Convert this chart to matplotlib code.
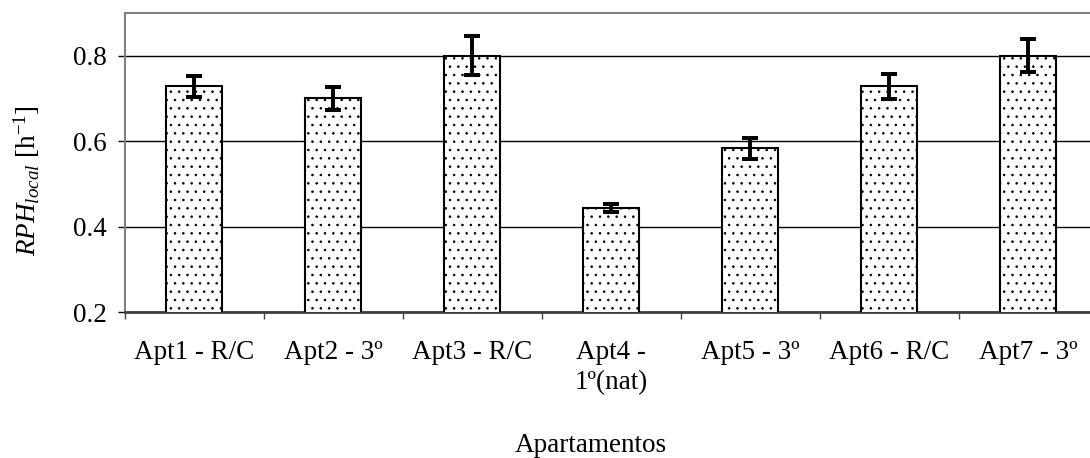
import matplotlib
matplotlib.use("Agg")
import matplotlib.pyplot as plt
import numpy as np

categories = ["Apt1 - R/C", "Apt2 - 3º", "Apt3 - R/C", "Apt4 -\n1º(nat)",
              "Apt5 - 3º", "Apt6 - R/C", "Apt7 - 3º"]
values = [0.728, 0.700, 0.800, 0.443, 0.583, 0.728, 0.800]
errors = [0.025, 0.026, 0.045, 0.009, 0.025, 0.030, 0.039]
yticks = [0.2, 0.4, 0.6, 0.8]

plt.rcParams['font.family'] = ['Liberation Serif', 'DejaVu Serif']
plt.rcParams['mathtext.fontset'] = 'custom'
plt.rcParams['mathtext.rm'] = 'Liberation Serif'
plt.rcParams['mathtext.it'] = 'Liberation Serif:italic'
plt.rcParams['hatch.linewidth'] = 0.6
plt.rcParams['hatch.color'] = '#3a3a3a'

W, H = 1090, 458
fig = plt.figure(figsize=(W/100, H/100), dpi=100)
L, R, T, B = 124.7, 1097.7, 13, 312
ax = fig.add_axes([L/W, 1-B/H, (R-L)/W, (B-T)/H])

x = np.arange(len(categories))
ax.bar(x, values, width=0.40, color='white', edgecolor='black', linewidth=1.5,
       hatch='..', zorder=3)
ax.errorbar(x, values, yerr=errors, fmt='none', ecolor='black', elinewidth=2.8,
            capsize=5.8, capthick=2.9, zorder=4)

ax.set_xlim(-0.5, len(categories)-0.5)
ax.set_ylim(0.2, 0.9)
ax.set_yticks(yticks)
ax.set_yticklabels([f"{v:.1f}" for v in yticks])
ax.yaxis.grid(True, color='black', linewidth=1.0, zorder=0)
ax.set_axisbelow(True)

ax.set_xticks(x)
ax.set_xticklabels(categories, linespacing=1.3)
ax.set_xticks(np.arange(-0.5, len(categories), 1.0), minor=True)
ax.tick_params(axis='x', which='major', length=0, pad=20, labelsize=19.5)
ax.tick_params(axis='x', which='minor', length=5, width=1.0, color='#444444', direction='out')
ax.tick_params(axis='y', length=5, width=1.0, direction='out', pad=8, labelsize=19.5)

for s in ['top', 'right', 'left']:
    ax.spines[s].set_color('#808080')
    ax.spines[s].set_linewidth(1.5)
ax.spines['bottom'].set_color('#404040')
ax.spines['bottom'].set_linewidth(2.0)

ax.set_ylabel(r'$RPH_{local}$ [h$^{\mathrm{-1}}$]', fontsize=19.5)
ax.yaxis.set_label_coords((42-L)/(R-L), (B-180.5)/(B-T))

fig.text(591/W, 1-445/H, "Apartamentos", ha='center', va='center', fontsize=19.5)

fig.savefig("out.png", dpi=100)
